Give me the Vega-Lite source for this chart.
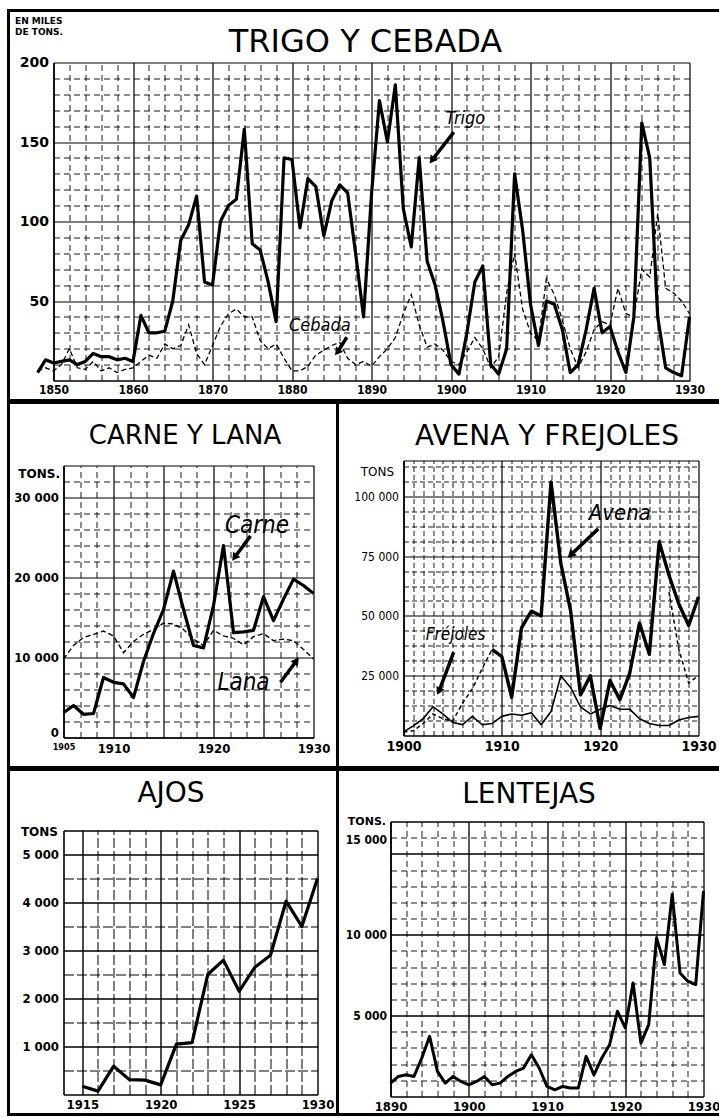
{
"$schema": "https://vega.github.io/schema/vega-lite/v6.json",
"padding": {"left": 6.5, "top": 8.5, "right": 0, "bottom": 0},
"background": "white",
"config": {
  "view": {"stroke": "#000", "strokeWidth": 3},
  "axis": {"labelColor": "#000", "domainColor": "#000", "gridColor": "#000", "gridOpacity": 1, "titleColor": "#000", "labelFontWeight": "bold", "labelFont": "Liberation Sans Narrow, DejaVu Sans Condensed, Liberation Sans, sans-serif"},
  "title": {"color": "#000", "font": "DejaVu Sans", "fontWeight": "normal", "anchor": "middle"}
},
"datasets": {
  "trigo": [{"anio":1848,"valor":5},{"anio":1849,"valor":13},{"anio":1850,"valor":11},{"anio":1851,"valor":12},{"anio":1852,"valor":13},{"anio":1853,"valor":10},{"anio":1854,"valor":12},{"anio":1855,"valor":17},{"anio":1856,"valor":15},{"anio":1857,"valor":15},{"anio":1858,"valor":13},{"anio":1859,"valor":14},{"anio":1860,"valor":12},{"anio":1861,"valor":41},{"anio":1862,"valor":30},{"anio":1863,"valor":30},{"anio":1864,"valor":31},{"anio":1865,"valor":50},{"anio":1866,"valor":88},{"anio":1867,"valor":98},{"anio":1868,"valor":116},{"anio":1869,"valor":62},{"anio":1870,"valor":60},{"anio":1871,"valor":100},{"anio":1872,"valor":110},{"anio":1873,"valor":114},{"anio":1874,"valor":158},{"anio":1875,"valor":86},{"anio":1876,"valor":82},{"anio":1877,"valor":62},{"anio":1878,"valor":37},{"anio":1879,"valor":140},{"anio":1880,"valor":139},{"anio":1881,"valor":96},{"anio":1882,"valor":127},{"anio":1883,"valor":122},{"anio":1884,"valor":91},{"anio":1885,"valor":113},{"anio":1886,"valor":123},{"anio":1887,"valor":118},{"anio":1888,"valor":80},{"anio":1889,"valor":40},{"anio":1890,"valor":117},{"anio":1891,"valor":176},{"anio":1892,"valor":150},{"anio":1893,"valor":186},{"anio":1894,"valor":108},{"anio":1895,"valor":84},{"anio":1896,"valor":140},{"anio":1897,"valor":75},{"anio":1898,"valor":60},{"anio":1899,"valor":37},{"anio":1900,"valor":10},{"anio":1901,"valor":4},{"anio":1902,"valor":30},{"anio":1903,"valor":62},{"anio":1904,"valor":72},{"anio":1905,"valor":10},{"anio":1906,"valor":4},{"anio":1907,"valor":20},{"anio":1908,"valor":130},{"anio":1909,"valor":95},{"anio":1910,"valor":48},{"anio":1911,"valor":22},{"anio":1912,"valor":50},{"anio":1913,"valor":48},{"anio":1914,"valor":32},{"anio":1915,"valor":5},{"anio":1916,"valor":10},{"anio":1917,"valor":32},{"anio":1918,"valor":58},{"anio":1919,"valor":30},{"anio":1920,"valor":34},{"anio":1921,"valor":18},{"anio":1922,"valor":5},{"anio":1923,"valor":40},{"anio":1924,"valor":162},{"anio":1925,"valor":140},{"anio":1926,"valor":40},{"anio":1927,"valor":8},{"anio":1928,"valor":5},{"anio":1929,"valor":3},{"anio":1930,"valor":40}],
  "cebada": [{"anio":1848,"valor":6},{"anio":1849,"valor":8},{"anio":1850,"valor":6},{"anio":1851,"valor":10},{"anio":1852,"valor":20},{"anio":1853,"valor":8},{"anio":1854,"valor":7},{"anio":1855,"valor":12},{"anio":1856,"valor":6},{"anio":1857,"valor":8},{"anio":1858,"valor":5},{"anio":1859,"valor":7},{"anio":1860,"valor":8},{"anio":1861,"valor":12},{"anio":1862,"valor":16},{"anio":1863,"valor":14},{"anio":1864,"valor":23},{"anio":1865,"valor":20},{"anio":1866,"valor":22},{"anio":1867,"valor":35},{"anio":1868,"valor":17},{"anio":1869,"valor":10},{"anio":1870,"valor":22},{"anio":1871,"valor":34},{"anio":1872,"valor":42},{"anio":1873,"valor":45},{"anio":1874,"valor":40},{"anio":1875,"valor":40},{"anio":1876,"valor":25},{"anio":1877,"valor":20},{"anio":1878,"valor":23},{"anio":1879,"valor":14},{"anio":1880,"valor":6},{"anio":1881,"valor":6},{"anio":1882,"valor":9},{"anio":1883,"valor":16},{"anio":1884,"valor":19},{"anio":1885,"valor":22},{"anio":1886,"valor":24},{"anio":1887,"valor":14},{"anio":1888,"valor":10},{"anio":1889,"valor":12},{"anio":1890,"valor":9},{"anio":1891,"valor":15},{"anio":1892,"valor":20},{"anio":1893,"valor":27},{"anio":1894,"valor":42},{"anio":1895,"valor":54},{"anio":1896,"valor":35},{"anio":1897,"valor":21},{"anio":1898,"valor":23},{"anio":1899,"valor":19},{"anio":1900,"valor":12},{"anio":1901,"valor":10},{"anio":1902,"valor":18},{"anio":1903,"valor":27},{"anio":1904,"valor":20},{"anio":1905,"valor":8},{"anio":1906,"valor":15},{"anio":1907,"valor":55},{"anio":1908,"valor":80},{"anio":1909,"valor":45},{"anio":1910,"valor":30},{"anio":1911,"valor":25},{"anio":1912,"valor":64},{"anio":1913,"valor":54},{"anio":1914,"valor":38},{"anio":1915,"valor":20},{"anio":1916,"valor":8},{"anio":1917,"valor":18},{"anio":1918,"valor":32},{"anio":1919,"valor":37},{"anio":1920,"valor":35},{"anio":1921,"valor":58},{"anio":1922,"valor":42},{"anio":1923,"valor":40},{"anio":1924,"valor":70},{"anio":1925,"valor":65},{"anio":1926,"valor":105},{"anio":1927,"valor":58},{"anio":1928,"valor":55},{"anio":1929,"valor":50},{"anio":1930,"valor":42}],
  "carne": [{"anio":1905,"valor":3100},{"anio":1906,"valor":4000},{"anio":1907,"valor":2900},{"anio":1908,"valor":3000},{"anio":1909,"valor":7500},{"anio":1910,"valor":6900},{"anio":1911,"valor":6700},{"anio":1912,"valor":5000},{"anio":1913,"valor":9500},{"anio":1914,"valor":13000},{"anio":1915,"valor":16000},{"anio":1916,"valor":20800},{"anio":1917,"valor":16000},{"anio":1918,"valor":11500},{"anio":1919,"valor":11200},{"anio":1920,"valor":16500},{"anio":1921,"valor":24000},{"anio":1922,"valor":13100},{"anio":1923,"valor":13200},{"anio":1924,"valor":13400},{"anio":1925,"valor":17600},{"anio":1926,"valor":14600},{"anio":1927,"valor":17300},{"anio":1928,"valor":19800},{"anio":1929,"valor":19000},{"anio":1930,"valor":18000}],
  "lana": [{"anio":1905,"valor":9800},{"anio":1906,"valor":11500},{"anio":1907,"valor":12500},{"anio":1908,"valor":12900},{"anio":1909,"valor":13300},{"anio":1910,"valor":12700},{"anio":1911,"valor":10600},{"anio":1912,"valor":12000},{"anio":1913,"valor":12900},{"anio":1914,"valor":13500},{"anio":1915,"valor":14300},{"anio":1916,"valor":14200},{"anio":1917,"valor":13500},{"anio":1918,"valor":12300},{"anio":1919,"valor":11500},{"anio":1920,"valor":13400},{"anio":1921,"valor":12700},{"anio":1922,"valor":12400},{"anio":1923,"valor":11600},{"anio":1924,"valor":12600},{"anio":1925,"valor":13000},{"anio":1926,"valor":12100},{"anio":1927,"valor":12300},{"anio":1928,"valor":12100},{"anio":1929,"valor":11000},{"anio":1930,"valor":9800}],
  "avena": [{"anio":1909,"valor":36000},{"anio":1910,"valor":33000},{"anio":1911,"valor":16000},{"anio":1912,"valor":45000},{"anio":1913,"valor":52000},{"anio":1914,"valor":50000},{"anio":1915,"valor":106000},{"anio":1916,"valor":72000},{"anio":1917,"valor":52000},{"anio":1918,"valor":17000},{"anio":1919,"valor":25000},{"anio":1920,"valor":3000},{"anio":1921,"valor":23000},{"anio":1922,"valor":15000},{"anio":1923,"valor":26000},{"anio":1924,"valor":47000},{"anio":1925,"valor":34000},{"anio":1926,"valor":81000},{"anio":1927,"valor":67000},{"anio":1928,"valor":55000},{"anio":1929,"valor":46000},{"anio":1930,"valor":58000}],
  "avena_punteada": [{"anio":1900,"valor":1500,"tramo":"1900-1909"},{"anio":1901,"valor":2000,"tramo":"1900-1909"},{"anio":1902,"valor":5000,"tramo":"1900-1909"},{"anio":1903,"valor":9000,"tramo":"1900-1909"},{"anio":1904,"valor":7000,"tramo":"1900-1909"},{"anio":1905,"valor":6000,"tramo":"1900-1909"},{"anio":1906,"valor":13500,"tramo":"1900-1909"},{"anio":1907,"valor":19500,"tramo":"1900-1909"},{"anio":1908,"valor":28000,"tramo":"1900-1909"},{"anio":1909,"valor":36000,"tramo":"1900-1909"},{"anio":1927,"valor":60000,"tramo":"1927-1930"},{"anio":1928,"valor":36000,"tramo":"1927-1930"},{"anio":1929,"valor":22000,"tramo":"1927-1930"},{"anio":1930,"valor":25000,"tramo":"1927-1930"}],
  "frejoles": [{"anio":1900,"valor":1500},{"anio":1901,"valor":4000},{"anio":1902,"valor":7000},{"anio":1903,"valor":12000},{"anio":1904,"valor":9000},{"anio":1905,"valor":5500},{"anio":1906,"valor":4500},{"anio":1907,"valor":8000},{"anio":1908,"valor":4500},{"anio":1909,"valor":5000},{"anio":1910,"valor":8000},{"anio":1911,"valor":9000},{"anio":1912,"valor":8500},{"anio":1913,"valor":9500},{"anio":1914,"valor":4500},{"anio":1915,"valor":10000},{"anio":1916,"valor":25000},{"anio":1917,"valor":20000},{"anio":1918,"valor":12000},{"anio":1919,"valor":9000},{"anio":1920,"valor":11000},{"anio":1921,"valor":12500},{"anio":1922,"valor":11000},{"anio":1923,"valor":11000},{"anio":1924,"valor":7000},{"anio":1925,"valor":5000},{"anio":1926,"valor":4200},{"anio":1927,"valor":4200},{"anio":1928,"valor":6500},{"anio":1929,"valor":7500},{"anio":1930,"valor":8000}],
  "ajos": [{"anio":1915,"valor":170},{"anio":1916,"valor":70},{"anio":1917,"valor":590},{"anio":1918,"valor":310},{"anio":1919,"valor":300},{"anio":1920,"valor":200},{"anio":1921,"valor":1050},{"anio":1922,"valor":1080},{"anio":1923,"valor":2500},{"anio":1924,"valor":2800},{"anio":1925,"valor":2150},{"anio":1926,"valor":2650},{"anio":1927,"valor":2900},{"anio":1928,"valor":4030},{"anio":1929,"valor":3500},{"anio":1930,"valor":4500}],
  "lentejas": [{"anio":1890,"valor":830},{"anio":1891,"valor":1240},{"anio":1892,"valor":1340},{"anio":1893,"valor":1240},{"anio":1894,"valor":2380},{"anio":1895,"valor":3720},{"anio":1896,"valor":1550},{"anio":1897,"valor":830},{"anio":1898,"valor":1240},{"anio":1899,"valor":930},{"anio":1900,"valor":720},{"anio":1901,"valor":930},{"anio":1902,"valor":1240},{"anio":1903,"valor":720},{"anio":1904,"valor":830},{"anio":1905,"valor":1240},{"anio":1906,"valor":1550},{"anio":1907,"valor":1760},{"anio":1908,"valor":2580},{"anio":1909,"valor":1760},{"anio":1910,"valor":620},{"anio":1911,"valor":410},{"anio":1912,"valor":620},{"anio":1913,"valor":520},{"anio":1914,"valor":520},{"anio":1915,"valor":2480},{"anio":1916,"valor":1340},{"anio":1917,"valor":2380},{"anio":1918,"valor":3200},{"anio":1919,"valor":5270},{"anio":1920,"valor":4240},{"anio":1921,"valor":7020},{"anio":1922,"valor":3300},{"anio":1923,"valor":4440},{"anio":1924,"valor":9810},{"anio":1925,"valor":8160},{"anio":1926,"valor":12500},{"anio":1927,"valor":7640},{"anio":1928,"valor":7130},{"anio":1929,"valor":6920},{"anio":1930,"valor":12700}],
  "rotulos_trigo": [{"x":1901.8,"y":161.6,"texto":"Trigo"},{"x":1883.5,"y":31.4,"texto":"Cebada"}],
  "flechas_trigo": [{"x":1900.35,"y":156.2,"x2":1897.6,"y2":138.5,"nombre":"Trigo"},{"x":1886.9,"y":27.2,"x2":1885.7,"y2":17.8,"nombre":"Cebada"}],
  "rotulos_carne": [{"x":1924.35,"y":25600,"texto":"Carne"},{"x":1923,"y":6000,"texto":"Lana"}],
  "flechas_carne": [{"x":1923.7,"y":25200,"x2":1922.1,"y2":22500,"nombre":"Carne"},{"x":1926.7,"y":6900,"x2":1928.3,"y2":9600,"nombre":"Lana"}],
  "rotulos_avena": [{"x":1922.0,"y":90000,"texto":"Avena"},{"x":1905.3,"y":39800,"texto":"Fréjoles"}],
  "flechas_avena": [{"x":1919.8,"y":86400,"x2":1917.0,"y2":75500,"nombre":"Avena"},{"x":1905.1,"y":34800,"x2":1903.6,"y2":18500,"nombre":"Fréjoles"}]
},
"vconcat": [
  {
    "width": 712, "height": 390,
    "title": {"text": "TRIGO Y CEBADA", "fontSize": 32, "offset": -48, "dx": 1},
    "resolve": {"axis": {"x": "independent", "y": "independent"}},
    "layer": [
      {
        "data": {"name": "trigo"},
        "mark": {"type": "line", "color": "#000", "strokeWidth": 3.2, "strokeJoin": "round"},
        "encoding": {
          "x": {"field": "anio", "type": "quantitative",
            "scale": {"domain": [1850, 1930], "range": [45, 681], "nice": false, "zero": false},
            "axis": {"orient": "top", "offset": -370, "title": null, "format": "d",
              "values": [1850,1852,1854,1856,1858,1860,1862,1864,1866,1868,1870,1872,1874,1876,1878,1880,1882,1884,1886,1888,1890,1892,1894,1896,1898,1900,1902,1904,1906,1908,1910,1912,1914,1916,1918,1920,1922,1924,1926,1928,1930],
              "labelExpr": "datum.value % 10 == 0 ? datum.label : ''",
              "ticks": false, "domain": true, "domainWidth": 1.6,
              "labelBaseline": "top", "labelPadding": -4, "labelFlush": false, "labelOverlap": false, "labelFontSize": 12,
              "grid": true,
              "gridDash": {"condition": {"test": "datum.value % 10 == 0", "value": [1, 0]}, "value": [6, 4]},
              "gridWidth": {"condition": {"test": "datum.value % 10 == 0", "value": 1.2}, "value": 0.9}}},
          "y": {"field": "valor", "type": "quantitative",
            "scale": {"domain": [0, 200], "range": [370, 52], "nice": false, "zero": false},
            "axis": {"orient": "left", "offset": -45, "format": "d",
              "values": [10,20,30,40,50,60,70,80,90,100,110,120,130,140,150,160,170,180,190,200],
              "labelExpr": "datum.value % 50 == 0 ? datum.label : ''",
              "ticks": false, "domain": true, "domainWidth": 1.6, "labelPadding": 5,
              "labelFont": "DejaVu Sans", "labelFontSize": 14, "labelOverlap": false,
              "title": ["EN MILES", "DE TONS."], "titleAngle": 0, "titleAlign": "left", "titleBaseline": "top",
              "titleX": -39, "titleY": 6, "titleFontSize": 9, "titleFontWeight": "bold", "titleFont": "DejaVu Sans", "titleLineHeight": 11,
              "grid": true,
              "gridDash": {"condition": {"test": "datum.value % 50 == 0", "value": [1, 0]}, "value": [6, 4]},
              "gridWidth": {"condition": {"test": "datum.value % 50 == 0", "value": 1.2}, "value": 0.9}}}
        }
      },
      {
        "data": {"name": "cebada"},
        "mark": {"type": "line", "color": "#000", "strokeWidth": 1.3, "strokeDash": [5, 3]},
        "encoding": {
          "x": {"field": "anio", "type": "quantitative", "scale": {"domain": [1850, 1930], "range": [45, 681], "nice": false, "zero": false}, "axis": null},
          "y": {"field": "valor", "type": "quantitative", "scale": {"domain": [0, 200], "range": [370, 52], "nice": false, "zero": false}, "axis": null}
        }
      },
      {
        "data": {"name": "rotulos_trigo"},
        "mark": {"type": "text", "color": "#000", "fontSize": 18, "fontStyle": "italic", "font": "Liberation Sans Narrow, DejaVu Sans Condensed, Liberation Sans, sans-serif", "align": "center", "baseline": "alphabetic"},
        "encoding": {
          "x": {"field": "x", "type": "quantitative", "scale": {"domain": [1850, 1930], "range": [45, 681], "nice": false, "zero": false}, "axis": null},
          "y": {"field": "y", "type": "quantitative", "scale": {"domain": [0, 200], "range": [370, 52], "nice": false, "zero": false}, "axis": null},
          "text": {"field": "texto"}
        }
      },
      {
        "data": {"name": "flechas_trigo"},
        "mark": {"type": "rule", "color": "#000", "strokeWidth": 3.5},
        "encoding": {
          "x": {"field": "x", "type": "quantitative", "scale": {"domain": [1850, 1930], "range": [45, 681], "nice": false, "zero": false}, "axis": null},
          "y": {"field": "y", "type": "quantitative", "scale": {"domain": [0, 200], "range": [370, 52], "nice": false, "zero": false}, "axis": null},
          "x2": {"field": "x2"},
          "y2": {"field": "y2"}
        }
      },
      {
        "data": {"name": "flechas_trigo"},
        "mark": {"type": "point", "shape": "triangle-up", "filled": true, "color": "#000", "opacity": 1, "size": 80, "angle": 216},
        "encoding": {
          "x": {"field": "x2", "type": "quantitative", "scale": {"domain": [1850, 1930], "range": [45, 681], "nice": false, "zero": false}, "axis": null},
          "y": {"field": "y2", "type": "quantitative", "scale": {"domain": [0, 200], "range": [370, 52], "nice": false, "zero": false}, "axis": null}
        }
      }
    ]
  },
  {
    "hconcat": [
      {
        "width": 329, "height": 365,
        "title": {"text": "CARNE Y LANA", "fontSize": 26, "offset": -46, "dx": 12},
        "resolve": {"axis": {"x": "independent", "y": "independent"}},
        "layer": [
          {
            "data": {"name": "carne"},
            "mark": {"type": "line", "color": "#000", "strokeWidth": 3.2, "strokeJoin": "round"},
            "encoding": {
              "x": {"field": "anio", "type": "quantitative",
                "scale": {"domain": [1905, 1930], "range": [55, 305], "nice": false, "zero": false},
                "axis": {"orient": "top", "offset": -335, "title": null, "format": "d",
                  "values": [1905,1906.667,1908.333,1910,1911.667,1913.333,1915,1916.667,1918.333,1920,1921.667,1923.333,1925,1926.667,1928.333,1930],
                  "labelExpr": "(datum.value == 1905 || datum.value == 1910 || datum.value == 1920 || datum.value == 1930) ? datum.label : ''",
                  "ticks": false, "domain": true, "domainWidth": 1.6,
                  "labelBaseline": "top", "labelPadding": -5, "labelFlush": false, "labelOverlap": false,
                  "labelFontSize": {"condition": {"test": "datum.value == 1905", "value": 9}, "value": 13},
                  "grid": true,
                  "gridDash": {"condition": {"test": "datum.value % 5 == 0", "value": [1, 0]}, "value": [6, 4]},
                  "gridWidth": {"condition": {"test": "datum.value % 5 == 0", "value": 1.2}, "value": 0.9}}},
              "y": {"field": "valor", "type": "quantitative",
                "scale": {"domain": [0, 34000], "range": [335, 63], "nice": false, "zero": false},
                "axis": {"orient": "left", "offset": -55, "format": "d",
                  "values": [0,2000,4000,6000,8000,10000,12000,14000,16000,18000,20000,22000,24000,26000,28000,30000,32000,34000],
                  "labelExpr": "(datum.value % 10000 == 0 && datum.value <= 30000) ? replace(format(datum.value, ','), ',', ' ') : ''",
                  "labelOffset": {"condition": {"test": "datum.value == 0", "value": -5}, "value": 0},
                  "ticks": false, "domain": true, "domainWidth": 1.6, "labelPadding": 5, "labelFontSize": 13, "labelOverlap": false,
                  "title": "TONS.", "titleAngle": 0, "titleAlign": "right", "titleBaseline": "middle",
                  "titleX": -4, "titleY": 71, "titleFontSize": 12, "titleFontWeight": "bold", "titleFont": "DejaVu Sans",
                  "grid": true,
                  "gridDash": {"condition": {"test": "datum.value % 10000 == 0 || datum.value == 34000", "value": [1, 0]}, "value": [6, 4]},
                  "gridWidth": {"condition": {"test": "datum.value % 10000 == 0 || datum.value == 34000", "value": 1.2}, "value": 0.9}}}
            }
          },
          {
            "data": {"name": "lana"},
            "mark": {"type": "line", "color": "#000", "strokeWidth": 1.4, "strokeDash": [5, 3]},
            "encoding": {
              "x": {"field": "anio", "type": "quantitative", "scale": {"domain": [1905, 1930], "range": [55, 305], "nice": false, "zero": false}, "axis": null},
              "y": {"field": "valor", "type": "quantitative", "scale": {"domain": [0, 34000], "range": [335, 63], "nice": false, "zero": false}, "axis": null}
            }
          },
          {
            "data": {"name": "rotulos_carne"},
            "mark": {"type": "text", "color": "#000", "fontSize": 24, "fontStyle": "italic", "font": "Liberation Sans Narrow, DejaVu Sans Condensed, Liberation Sans, sans-serif", "align": "center", "baseline": "alphabetic"},
            "encoding": {
              "x": {"field": "x", "type": "quantitative", "scale": {"domain": [1905, 1930], "range": [55, 305], "nice": false, "zero": false}, "axis": null},
              "y": {"field": "y", "type": "quantitative", "scale": {"domain": [0, 34000], "range": [335, 63], "nice": false, "zero": false}, "axis": null},
              "text": {"field": "texto"}
            }
          },
          {
            "data": {"name": "flechas_carne"},
            "mark": {"type": "rule", "color": "#000", "strokeWidth": 3.5},
            "encoding": {
              "x": {"field": "x", "type": "quantitative", "scale": {"domain": [1905, 1930], "range": [55, 305], "nice": false, "zero": false}, "axis": null},
              "y": {"field": "y", "type": "quantitative", "scale": {"domain": [0, 34000], "range": [335, 63], "nice": false, "zero": false}, "axis": null},
              "x2": {"field": "x2"},
              "y2": {"field": "y2"}
            }
          },
          {
            "data": {"name": "flechas_carne"},
            "transform": [{"filter": "datum.nombre == 'Carne'"}],
            "mark": {"type": "point", "shape": "triangle-up", "filled": true, "color": "#000", "opacity": 1, "size": 80, "angle": 216},
            "encoding": {
              "x": {"field": "x2", "type": "quantitative", "scale": {"domain": [1905, 1930], "range": [55, 305], "nice": false, "zero": false}, "axis": null},
              "y": {"field": "y2", "type": "quantitative", "scale": {"domain": [0, 34000], "range": [335, 63], "nice": false, "zero": false}, "axis": null}
            }
          },
          {
            "data": {"name": "flechas_carne"},
            "transform": [{"filter": "datum.nombre == 'Lana'"}],
            "mark": {"type": "point", "shape": "triangle-up", "filled": true, "color": "#000", "opacity": 1, "size": 80, "angle": 36},
            "encoding": {
              "x": {"field": "x2", "type": "quantitative", "scale": {"domain": [1905, 1930], "range": [55, 305], "nice": false, "zero": false}, "axis": null},
              "y": {"field": "y2", "type": "quantitative", "scale": {"domain": [0, 34000], "range": [335, 63], "nice": false, "zero": false}, "axis": null}
            }
          }
        ]
      },
      {
        "width": 383, "height": 365,
        "title": {"text": "AVENA Y FREJOLES", "fontSize": 28, "offset": -48, "dx": 18},
        "resolve": {"axis": {"x": "independent", "y": "independent"}},
        "layer": [
          {
            "data": {"name": "avena"},
            "mark": {"type": "line", "color": "#000", "strokeWidth": 3.4, "strokeJoin": "round"},
            "encoding": {
              "x": {"field": "anio", "type": "quantitative",
                "scale": {"domain": [1900, 1930], "range": [66, 361], "nice": false, "zero": false},
                "axis": {"orient": "top", "offset": -333, "title": null, "format": "d",
                  "values": [1900,1901,1902,1903,1904,1905,1906,1907,1908,1909,1910,1911,1912,1913,1914,1915,1916,1917,1918,1919,1920,1921,1922,1923,1924,1925,1926,1927,1928,1929,1930],
                  "labelExpr": "datum.value % 10 == 0 ? datum.label : ''",
                  "ticks": false, "domain": true, "domainWidth": 1.6,
                  "labelBaseline": "top", "labelPadding": -4, "labelFlush": false, "labelOverlap": false, "labelFontSize": 14,
                  "grid": true,
                  "gridDash": {"condition": {"test": "datum.value % 10 == 0", "value": [1, 0]}, "value": [5, 3]},
                  "gridWidth": {"condition": {"test": "datum.value % 10 == 0", "value": 1.2}, "value": 0.9}}},
              "y": {"field": "valor", "type": "quantitative",
                "scale": {"domain": [0, 115000], "range": [333, 58], "nice": false, "zero": false},
                "axis": {"orient": "left", "offset": -66, "format": "d",
                  "values": [6250,12500,18750,25000,31250,37500,43750,50000,56250,62500,68750,75000,81250,87500,93750,100000,106250,112500,115000],
                  "labelExpr": "(datum.value % 25000 == 0 && datum.value <= 100000) ? replace(format(datum.value, ','), ',', ' ') : ''",
                  "ticks": false, "domain": true, "domainWidth": 1.6, "labelPadding": 5, "labelFontSize": 12, "labelFontWeight": "normal", "labelOverlap": false,
                  "title": "TONS", "titleAngle": 0, "titleAlign": "right", "titleBaseline": "middle",
                  "titleX": -10, "titleY": 69, "titleFontSize": 12, "titleFontWeight": "normal", "titleFont": "DejaVu Sans",
                  "grid": true,
                  "gridDash": {"condition": {"test": "datum.value % 25000 == 0 || datum.value == 115000", "value": [1, 0]}, "value": [5, 3]},
                  "gridWidth": {"condition": {"test": "datum.value % 25000 == 0 || datum.value == 115000", "value": 1.2}, "value": 0.9}}}
            }
          },
          {
            "data": {"name": "avena_punteada"},
            "mark": {"type": "line", "color": "#000", "strokeWidth": 1.5, "strokeDash": [4, 3]},
            "encoding": {
              "x": {"field": "anio", "type": "quantitative", "scale": {"domain": [1900, 1930], "range": [66, 361], "nice": false, "zero": false}, "axis": null},
              "y": {"field": "valor", "type": "quantitative", "scale": {"domain": [0, 115000], "range": [333, 58], "nice": false, "zero": false}, "axis": null},
              "detail": {"field": "tramo"}
            }
          },
          {
            "data": {"name": "frejoles"},
            "mark": {"type": "line", "color": "#000", "strokeWidth": 1.6, "strokeJoin": "round"},
            "encoding": {
              "x": {"field": "anio", "type": "quantitative", "scale": {"domain": [1900, 1930], "range": [66, 361], "nice": false, "zero": false}, "axis": null},
              "y": {"field": "valor", "type": "quantitative", "scale": {"domain": [0, 115000], "range": [333, 58], "nice": false, "zero": false}, "axis": null}
            }
          },
          {
            "data": {"name": "rotulos_avena"},
            "mark": {"type": "text", "color": "#000", "fontStyle": "italic", "font": "Liberation Sans Narrow, DejaVu Sans Condensed, Liberation Sans, sans-serif", "align": "center", "baseline": "alphabetic"},
            "encoding": {
              "x": {"field": "x", "type": "quantitative", "scale": {"domain": [1900, 1930], "range": [66, 361], "nice": false, "zero": false}, "axis": null},
              "y": {"field": "y", "type": "quantitative", "scale": {"domain": [0, 115000], "range": [333, 58], "nice": false, "zero": false}, "axis": null},
              "text": {"field": "texto"},
              "size": {"condition": {"test": "datum.texto == 'Avena'", "value": 22}, "value": 17}
            }
          },
          {
            "data": {"name": "flechas_avena"},
            "mark": {"type": "rule", "color": "#000", "strokeWidth": 3.5},
            "encoding": {
              "x": {"field": "x", "type": "quantitative", "scale": {"domain": [1900, 1930], "range": [66, 361], "nice": false, "zero": false}, "axis": null},
              "y": {"field": "y", "type": "quantitative", "scale": {"domain": [0, 115000], "range": [333, 58], "nice": false, "zero": false}, "axis": null},
              "x2": {"field": "x2"},
              "y2": {"field": "y2"}
            }
          },
          {
            "data": {"name": "flechas_avena"},
            "transform": [{"filter": "datum.nombre == 'Avena'"}],
            "mark": {"type": "point", "shape": "triangle-up", "filled": true, "color": "#000", "opacity": 1, "size": 90, "angle": 226},
            "encoding": {
              "x": {"field": "x2", "type": "quantitative", "scale": {"domain": [1900, 1930], "range": [66, 361], "nice": false, "zero": false}, "axis": null},
              "y": {"field": "y2", "type": "quantitative", "scale": {"domain": [0, 115000], "range": [333, 58], "nice": false, "zero": false}, "axis": null}
            }
          },
          {
            "data": {"name": "flechas_avena"},
            "transform": [{"filter": "datum.nombre == 'Fréjoles'"}],
            "mark": {"type": "point", "shape": "triangle-up", "filled": true, "color": "#000", "opacity": 1, "size": 80, "angle": 203},
            "encoding": {
              "x": {"field": "x2", "type": "quantitative", "scale": {"domain": [1900, 1930], "range": [66, 361], "nice": false, "zero": false}, "axis": null},
              "y": {"field": "y2", "type": "quantitative", "scale": {"domain": [0, 115000], "range": [333, 58], "nice": false, "zero": false}, "axis": null}
            }
          }
        ]
      }
    ],
    "spacing": 0, "bounds": "flush"
  },
  {
    "hconcat": [
      {
        "width": 329, "height": 345,
        "title": {"text": "AJOS", "fontSize": 28, "offset": -38, "dx": -2},
        "data": {"name": "ajos"},
        "mark": {"type": "line", "color": "#000", "strokeWidth": 3.2, "strokeJoin": "round"},
        "encoding": {
          "x": {"field": "anio", "type": "quantitative",
            "scale": {"domain": [1913.8, 1930], "range": [55, 309], "nice": false, "zero": false},
            "axis": {"orient": "top", "offset": -325, "title": null, "format": "d",
              "values": [1915,1916,1917,1918,1919,1920,1921,1922,1923,1924,1925,1926,1927,1928,1929,1930],
              "labelExpr": "datum.value % 5 == 0 ? datum.label : ''",
              "ticks": false, "domain": true, "domainWidth": 1.6,
              "labelBaseline": "top", "labelPadding": -4, "labelFlush": false, "labelOverlap": false, "labelFontSize": 13,
              "grid": true,
              "gridDash": {"condition": {"test": "datum.value % 5 == 0", "value": [1, 0]}, "value": [10, 3]},
              "gridWidth": {"condition": {"test": "datum.value % 5 == 0", "value": 1.4}, "value": 1}}},
          "y": {"field": "valor", "type": "quantitative",
            "scale": {"domain": [0, 5500], "range": [325, 61], "nice": false, "zero": false},
            "axis": {"orient": "left", "offset": -55, "format": "d",
              "values": [500,1000,1500,2000,2500,3000,3500,4000,4500,5000,5500],
              "labelExpr": "(datum.value % 1000 == 0 && datum.value <= 5000) ? replace(format(datum.value, ','), ',', ' ') : ''",
              "ticks": false, "domain": true, "domainWidth": 1.6, "labelPadding": 5, "labelFontSize": 13, "labelOverlap": false,
              "title": "TONS", "titleAngle": 0, "titleAlign": "right", "titleBaseline": "middle",
              "titleX": -6, "titleY": 62, "titleFontSize": 12, "titleFontWeight": "bold", "titleFont": "DejaVu Sans",
              "grid": true,
              "gridDash": {"condition": {"test": "datum.value % 1000 == 0 || datum.value == 5500", "value": [1, 0]}, "value": [10, 3]},
              "gridWidth": {"condition": {"test": "datum.value % 1000 == 0 || datum.value == 5500", "value": 1.3}, "value": 1}}}
        }
      },
      {
        "width": 383, "height": 345,
        "title": {"text": "LENTEJAS", "fontSize": 28, "offset": -39, "dx": 0},
        "data": {"name": "lentejas"},
        "mark": {"type": "line", "color": "#000", "strokeWidth": 3, "strokeJoin": "round"},
        "encoding": {
          "x": {"field": "anio", "type": "quantitative",
            "scale": {"domain": [1890, 1930], "range": [53, 366], "nice": false, "zero": false},
            "axis": {"orient": "top", "offset": -327, "title": null, "format": "d",
              "values": [1890,1892,1894,1896,1898,1900,1902,1904,1906,1908,1910,1912,1914,1916,1918,1920,1922,1924,1926,1928,1930],
              "labelExpr": "datum.value % 10 == 0 ? datum.label : ''",
              "ticks": false, "domain": true, "domainWidth": 1.6,
              "labelBaseline": "top", "labelPadding": -4, "labelFlush": false, "labelOverlap": false, "labelFontSize": 13,
              "grid": true,
              "gridDash": {"condition": {"test": "datum.value % 10 == 0", "value": [1, 0]}, "value": [6, 4]},
              "gridWidth": {"condition": {"test": "datum.value % 10 == 0", "value": 1.3}, "value": 0.9}}},
          "y": {"field": "valor", "type": "quantitative",
            "scale": {"domain": [0, 17000], "range": [327, 52], "nice": false, "zero": false},
            "axis": {"orient": "left", "offset": -53, "format": "d",
              "values": [1000,2000,3000,4000,5000,6000,7000,8000,9000,10000,11000,12000,13000,14000,15000,16000,17000],
              "labelExpr": "(datum.value % 5000 == 0 && datum.value <= 15000) ? replace(format(datum.value, ','), ',', ' ') : ''",
              "labelOffset": {"condition": {"test": "datum.value == 15000", "value": -14}, "value": 0},
              "ticks": false, "domain": true, "domainWidth": 1.6, "labelPadding": 4, "labelFontSize": 12, "labelOverlap": false,
              "title": "TONS.", "titleAngle": 0, "titleAlign": "right", "titleBaseline": "middle",
              "titleX": -5, "titleY": 52, "titleFontSize": 11, "titleFontWeight": "bold", "titleFont": "DejaVu Sans",
              "grid": true,
              "gridDash": {"condition": {"test": "datum.value % 5000 == 0 || datum.value == 17000", "value": [1, 0]}, "value": [6, 4]},
              "gridWidth": {"condition": {"test": "datum.value % 5000 == 0 || datum.value == 17000", "value": 1.3}, "value": 0.9}}}
        }
      }
    ],
    "spacing": 0, "bounds": "flush"
  }
],
"spacing": -3
}
